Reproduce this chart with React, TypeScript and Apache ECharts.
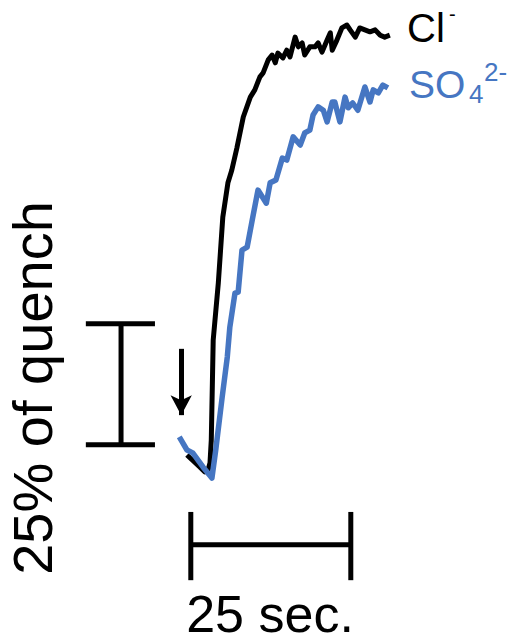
import React, { useEffect, useRef } from "react";
import * as echarts from "echarts";

// Cl- trace: time (s) and fluorescence (% of quench)
const clTime = [1.4, 3.4, 4.2, 4.7, 5.0, 5.2, 5.5, 6.3, 7.0, 7.8, 8.4, 9.2, 10.2, 11.3, 12.0, 12.8, 13.3, 14.1, 14.7, 15.2, 15.6, 16.4, 17.0, 17.5, 18.3, 18.8, 19.4, 19.8, 20.6, 21.4, 21.9, 22.5, 23.3, 23.8, 24.1, 24.7, 25.6, 26.4, 26.9, 27.7, 28.4, 29.2, 30.0, 30.8, 31.6, 32.3, 33.1];
const clValue = [5.17, 2.69, 1.65, 2.07, 3.51, 8.26, 28.9, 40.7, 54.3, 61.4, 64.0, 68.6, 75.0, 79.1, 80.6, 83.3, 84.1, 86.8, 87.8, 86.2, 88.2, 87.2, 88.8, 87.4, 91.5, 89.5, 90.3, 87.8, 89.5, 89.5, 90.3, 88.4, 90.9, 92.4, 88.8, 90.5, 93.4, 94.0, 93.0, 91.5, 93.4, 93.0, 92.6, 93.0, 91.9, 91.5, 91.9];

// SO4 2- trace
const so4Time = [0.2, 1.4, 2.3, 3.9, 5.3, 5.9, 6.9, 7.7, 8.1, 8.9, 9.4, 10.0, 10.8, 11.6, 12.5, 13.8, 14.4, 15.3, 16.3, 17.0, 18.0, 19.1, 19.8, 20.6, 21.1, 21.9, 22.7, 23.3, 24.1, 24.5, 25.3, 26.1, 26.6, 27.3, 28.1, 29.2, 30.0, 30.5, 31.3, 32.0, 32.8];
const so4Value = [8.9, 6.2, 5.6, 2.7, 0.4, 6.2, 17.1, 25.4, 31.6, 38.6, 38.8, 47.5, 48.1, 53.7, 59.9, 57.2, 61.4, 62.0, 66.5, 66.1, 70.9, 69.2, 71.7, 72.3, 75.4, 77.1, 76.4, 74.0, 78.1, 78.1, 74.0, 79.1, 76.9, 77.9, 76.4, 81.2, 78.1, 80.6, 80.0, 81.6, 81.0];

// Scale bars (data units)
const timeBarX = [2, 27]; // 25 sec.
const timeBarY = -13.4;
const timeBarCapY = [-6.6, -20.7];
const quenchBarX = -8.9;
const quenchBarY = [7.3, 32.3]; // 25 % of quench
const quenchBarCapX = [-14.4, -3.6];
// Arrow marking addition
const arrowX = 0.5;
const arrowY = [27.1, 13.4];

const BLUE = "#4676c2";
const FONT = "Liberation Sans, Arial, Helvetica, sans-serif";

function pairs(xs: number[], ys: number[]) {
  return xs.map((x, i) => [x, ys[i]]);
}

function barSeries(data: number[][]) {
  return {
    type: "line",
    data,
    symbol: "none",
    silent: true,
    clip: false,
    lineStyle: { color: "#000", width: 5, cap: "butt" },
  };
}

function txt(text: string, x: number, y: number, size: number, color: string, align = "left", rotation = 0, lineHeight?: number) {
  return {
    type: "text",
    x,
    y,
    rotation,
    style: {
      text,
      font: `${size}px ${FONT}`,
      fill: color,
      align,
      verticalAlign: "middle",
      textAlign: align,
      textVerticalAlign: "middle",
      lineHeight: lineHeight ?? size,
    },
  };
}

export default function App() {
  const ref = useRef<HTMLDivElement>(null);
  useEffect(() => {
    if (!ref.current) return;
    const chart = echarts.init(ref.current, null, { renderer: "svg" });
    chart.setOption({
      animation: false,
      backgroundColor: "#fff",
      grid: { left: 18, right: 13, top: 20.2, bottom: 16.8 },
      xAxis: { type: "value", min: -25, max: 50, show: false },
      yAxis: { type: "value", min: -30, max: 95, show: false },
      series: [
        barSeries([[timeBarX[0], timeBarY], [timeBarX[1], timeBarY]]),
        barSeries([[timeBarX[0], timeBarCapY[0]], [timeBarX[0], timeBarCapY[1]]]),
        barSeries([[timeBarX[1], timeBarCapY[0]], [timeBarX[1], timeBarCapY[1]]]),
        barSeries([[quenchBarX, quenchBarY[0]], [quenchBarX, quenchBarY[1]]]),
        barSeries([[quenchBarCapX[0], quenchBarY[0]], [quenchBarCapX[1], quenchBarY[0]]]),
        barSeries([[quenchBarCapX[0], quenchBarY[1]], [quenchBarCapX[1], quenchBarY[1]]]),
        {
          type: "line",
          name: "Cl-",
          data: pairs(clTime, clValue),
          symbol: "none",
          clip: false,
          lineStyle: { color: "#000", width: 5, join: "round" },
          markLine: {
            silent: true,
            symbol: ["none", "arrow"],
            symbolSize: [16, 20],
            label: { show: false },
            lineStyle: { color: "#000", width: 5, type: "solid" },
            data: [[{ coord: [arrowX, arrowY[0]] }, { coord: [arrowX, arrowY[1]] }]],
          },
        },
        {
          type: "line",
          name: "SO4 2-",
          data: pairs(so4Time, so4Value),
          symbol: "none",
          clip: false,
          lineStyle: { color: BLUE, width: 5.5, join: "round" },
        },
      ],
      graphic: [
        txt("25% of quench", 32, 388, 56, "#000", "center", Math.PI / 2),
        txt("25 sec.", 270, 614, 52, "#000", "center", 0, 48),
        txt("Cl", 407, 28, 40, "#000"),
        txt("-", 449, 14, 20, "#000"),
        txt("SO", 409, 84, 39, BLUE),
        txt("4", 469, 94, 26, BLUE, "left", 0, 18),
        txt("2-", 484, 72, 26, BLUE, "left", 0, 18),
      ],
    });
    return () => chart.dispose();
  }, []);
  return <div ref={ref} style={{ position: "absolute", left: 0, top: 0, width: 511, height: 642 }} />;
}
